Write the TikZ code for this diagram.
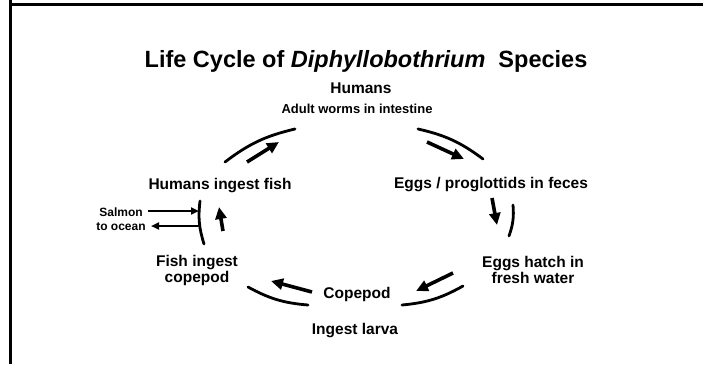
\documentclass[tikz,border=0pt]{standalone}
\usepackage{fontspec}
\setmainfont{Liberation Sans}
\usetikzlibrary{arrows.meta}

\begin{document}
\begin{tikzpicture}[x=1pt, y=-1pt,
    lbl/.style={font=\bfseries\fontsize{15.5}{16}\selectfont, align=center, inner sep=0pt},
    arc/.style={line width=2.8pt, line cap=round},
    flow/.style={line width=3.6pt, -{Triangle[length=12pt, width=11pt]}},
    side/.style={line width=2pt, -{Triangle[length=8pt, width=7pt]}}]
    \useasboundingbox (0,0) rectangle (703,364);
    % Rahmen
    \draw[line width=2.5pt] (10.5,0) -- (10.5,364);
    \draw[line width=2.5pt] (10.5,4.5) -- (703,4.5);

    % Titel
    \node[anchor=base, inner sep=0pt, font=\bfseries\fontsize{23.5}{26}\selectfont] (title) at (366,67)
        {Life Cycle of \textit{Diphyllobothrium}\ \ Species};

    % Stationen
    \node[lbl, anchor=base] (humans) at (361,93) {Humans};
    \node[lbl, anchor=base, font=\bfseries\fontsize{13}{14}\selectfont] (worms) at (357,113) {Adult worms in intestine};
    \node[lbl, anchor=base] (ingestfish) at (220,189) {Humans ingest fish};
    \node[lbl, anchor=base] (eggs) at (491,188) {Eggs / proglottids in feces};
    \node[lbl] (hatch) at (533,270) {Eggs hatch in\\fresh water};
    \node[lbl, anchor=base] (copepod) at (357,298) {Copepod};
    \node[lbl, anchor=base] (larva) at (355,334) {Ingest larva};
    \node[lbl] (fishcop) at (197,270) {Fish ingest\\copepod};
    \node[lbl, font=\bfseries\fontsize{12}{14}\selectfont] (salmon) at (121,219) {Salmon\\to ocean};

    % Boegen
    \draw[arc] (225,162) to[bend left=12] (295,129);
    \draw[arc] (418,129) to[bend left=12] (483,159);
    \draw[arc] (513,205) to[bend left=12] (509,236);
    \draw[arc] (463,286) to[bend left=12] (402,305);
    \draw[arc] (308,305) to[bend left=12] (248,287);
    \draw[arc] (204,244) to[bend left=12] (200,201);

    % Pfeile
    \draw[flow] (247,162) -- (279,142);
    \draw[flow] (427,142) -- (464,159);
    \draw[flow] (492,198) -- (497,225);
    \draw[flow] (453,273) -- (416,291);
    \draw[flow] (312,292) -- (271,281);
    \draw[flow] (223,231) -- (219,207);
    \draw[side] (148,211) -- (199,211);
    \draw[side] (199,226) -- (151,226);
\end{tikzpicture}
\end{document}
